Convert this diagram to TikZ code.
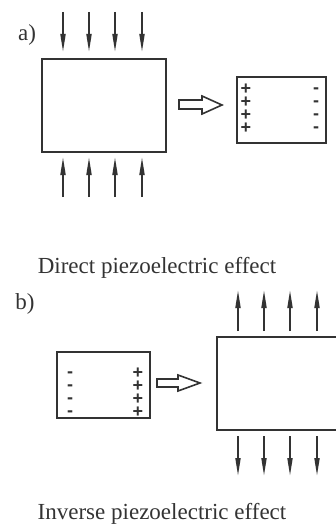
\documentclass[tikz,border=0pt]{standalone}
\usepackage{fontspec}
\setmainfont{Liberation Serif}
\newfontfamily\signfont{Liberation Sans}
\usetikzlibrary{arrows.meta}
\definecolor{ink}{HTML}{333333}
\tikzset{
  block/.style={draw=ink, line width=2pt, inner sep=0pt},
  force/.style={draw=ink, line width=1.8pt, -{Triangle[length=18pt,width=5pt]}},
  hollow/.style={draw=ink, line width=1.6pt, fill=white, line join=miter},
  signs/.style={text=ink, inner sep=0pt, align=center,
    font=\signfont\bfseries\fontsize{18}{13}\selectfont},
  lbl/.style={text=ink, inner sep=0pt, font=\fontsize{23}{23}\selectfont},
}
\begin{document}
\begin{tikzpicture}[x=1pt,y=-1pt]
\clip (0,0) rectangle (336,524);
% ---------- a) ----------
\node[lbl] (la) at (27,35) {a)};
\node[block, minimum width=124pt, minimum height=93pt] (A) at (104,105.5) {};
\node[block, minimum width=89pt, minimum height=66pt] (Aq) at (281.5,110) {};
\foreach \x [count=\i] in {63,89,115,142} {
  \coordinate (at\i) at (\x,12);
  \coordinate (ab\i) at (\x,52);
  \draw[force] (at\i) -- (ab\i);
  \coordinate (bt\i) at (\x,197);
  \coordinate (bb\i) at (\x,157);
  \draw[force] (bt\i) -- (bb\i);
}
\draw[hollow] (179,100) -- (202,100) -- (202,96) -- (222,105) -- (202,114) -- (202,109) -- (179,109) -- cycle;
\node[signs] (pa) at (246,109) {+\\+\\+\\+};
\node[signs] (ma) at (316,110) {-\\-\\-\\-};
\node[lbl, anchor=base] (ta) at (157,273) {Direct piezoelectric effect};
% ---------- b) ----------
\node[lbl] (lb) at (25,304) {b)};
\node[block, minimum width=93pt, minimum height=66pt] (Bq) at (103.5,385) {};
\node[block, minimum width=130pt, minimum height=93pt] (B) at (282,383.5) {};
\foreach \x [count=\i] in {238,264,290,317} {
  \coordinate (ct\i) at (\x,331);
  \coordinate (cb\i) at (\x,290);
  \draw[force] (ct\i) -- (cb\i);
  \coordinate (dt\i) at (\x,436);
  \coordinate (db\i) at (\x,476);
  \draw[force] (dt\i) -- (db\i);
}
\draw[hollow] (157,379) -- (178,379) -- (178,375) -- (200,383) -- (178,391) -- (178,387) -- (157,387) -- cycle;
\node[signs] (mb) at (70,394) {-\\-\\-\\-};
\node[signs] (pb) at (138,393) {+\\+\\+\\+};
\node[lbl, anchor=base] (tb) at (162,519) {Inverse piezoelectric effect};
\end{tikzpicture}
\end{document}
